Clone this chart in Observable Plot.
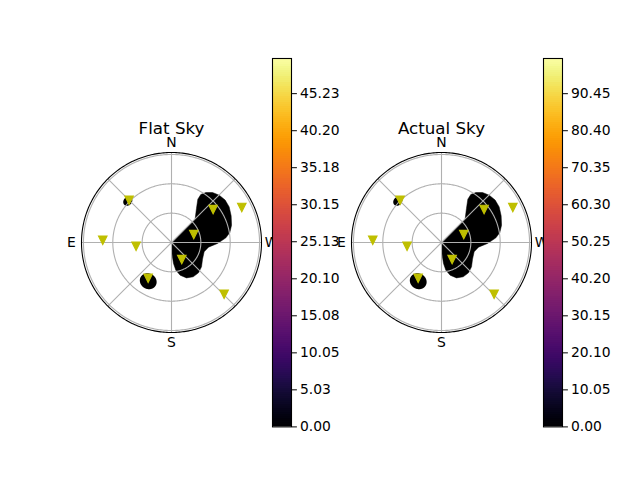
<!DOCTYPE html>
<html><head><meta charset="utf-8">
<script src="https://cdn.jsdelivr.net/npm/d3@7"></script>
<script src="https://cdn.jsdelivr.net/npm/@observablehq/plot@0.6"></script>
<style>
body{margin:0;background:#fff;}
#fig{position:relative;width:640px;height:480px;background:#fff;overflow:hidden;font-family:"DejaVu Sans";}
</style></head><body><div id="fig"></div>
<script>
// ---- data ----
const titles = ["Flat Sky", "Actual Sky"];
const flatAz  = [45.1, 296.5, 308.4, 289.7, 88.1, 96.0, 211.2, 146.8, 225.5];
const flatZen = [61.2, 80.3, 54.3, 24.2, 70.3, 36.4, 20.3, 43.6, 75.4];
const actualAz  = [44.4, 296.1, 307.8, 289.7, 88.1, 96.1, 212.0, 146.8, 225.5];
const actualZen = [60.5, 81.2, 55.1, 24.2, 70.3, 35.4, 20.5, 43.6, 75.4];
// outline of the low-value (black) region
const blobAz  = [250, 315, 315, 323.7, 328.7, 328.6, 325.5, 320.6, 314.8, 308.3, 301.7, 294.1, 286.1, 279.7, 274.9, 268.8, 262.8, 254.1, 241.7, 231.0, 221.7, 212.3, 203.0, 194.9, 188.9, 185.4, 183.0, 180];
const blobZen = [0.3, 16.9, 34.2, 43.1, 51.8, 57.5, 62.0, 66.1, 68.7, 69.9, 69.3, 66.8, 63.9, 60.5, 55.8, 47.0, 38.1, 34.7, 36.0, 39.5, 41.5, 41.5, 39.3, 34.6, 28.6, 21.6, 13.0, 6.1];
// small round low-value spots
const spotAz = [149, 46.6];
const spotZen = [46.2, 61.5];
const spotRadius = [7.9, 4.2];
const ringZen = [30, 60, 90];
const spokeAz = [0, 45, 90, 135, 180, 225, 270, 315];
const dirLabels = ["N", "E", "S", "W"];
const dirAz = [0, 90, 180, 270];
const rMax = 92;
const labelZen = 102.3;
const flatTicks = [0, 5.03, 10.05, 15.08, 20.10, 25.13, 30.15, 35.18, 40.20, 45.23];
const flatMax = 50.0;
const actualTicks = [0, 10.05, 20.10, 30.15, 40.20, 50.25, 60.30, 70.35, 80.40, 90.45];
const actualMax = 100.0;

// ---- helpers ----
const circle = (lon, lat, r) => d3.geoCircle().center([lon, lat]).radius(r).precision(1)();
const triDown = {
  draw(ctx, size) {
    const r = Math.sqrt(size / Math.PI);
    ctx.moveTo(0, r); ctx.lineTo(-r, -r); ctx.lineTo(r, -r); ctx.closePath();
  }
};
function blobPolygon() {
  const ring = blobAz.map((a, i) => [a, 90 - blobZen[i]]);
  ring.push(ring[0]);
  let poly = {type: "Polygon", coordinates: [ring]};
  if (d3.geoArea(poly) > 2 * Math.PI) poly = {type: "Polygon", coordinates: [ring.slice().reverse()]};
  return poly;
}
const font = {background: "transparent", fontFamily: "DejaVu Sans", fontSize: "13.9px", overflow: "visible", color: "black"};

function sky(az, zen, title) {
  const markers = az.map((a, i) => ({az: a, zen: zen[i]}));
  const spots = spotAz.map((a, i) => ({az: a, zen: spotZen[i], r: spotRadius[i]}));
  return Plot.plot({
    width: 260, height: 260, margin: 40,
    projection: {type: "azimuthal-equidistant", rotate: [180, -90], domain: circle(0, 90, rMax), clip: 179},
    style: font,
    marks: [
      Plot.geo([blobPolygon()], {fill: "black", stroke: "black", strokeWidth: 0.5}),
      Plot.geo(spots, {geometry: d => circle(d.az, 90 - d.zen, d.r), fill: "black"}),
      Plot.geo(ringZen, {geometry: z => circle(0, 90, z), fill: "none", stroke: "#b0b0b0", strokeWidth: 1.1}),
      Plot.link(spokeAz, {x1: a => a, y1: 90, x2: a => a, y2: 90 - rMax, stroke: "#b0b0b0", strokeWidth: 1.1}),
      Plot.dot(markers, {x: "az", y: d => 90 - d.zen, symbol: triDown, r: 4.2, fill: "#bfbf00", stroke: "#bfbf00", strokeWidth: 1.2}),
      Plot.geo([circle(0, 90, rMax)], {fill: "none", stroke: "black", strokeWidth: 1.1}),
      Plot.text(dirLabels, {x: (d, i) => dirAz[i], y: 90 - labelZen, text: d => d, fill: "black", fontSize: 13.9}),
      Plot.text([title], {frameAnchor: "top", lineAnchor: "middle", dy: -24, text: d => d, fill: "black", fontSize: 16.7})
    ]
  });
}

function colorbar(max, ticks) {
  const n = 184;
  const bands = d3.range(n).map(i => ({y1: i * max / n, y2: Math.min(max, (i + 1.6) * max / n), v: (i + 0.5) * max / n}));
  return Plot.plot({
    width: 80, height: 388.4, marginLeft: 2, marginRight: 59, marginTop: 10, marginBottom: 10,
    x: {domain: [0, 1], axis: null},
    y: {domain: [0, max], ticks: ticks, tickFormat: ".2f", tickSize: 4.9, tickPadding: 3.5, axis: "right", label: null},
    color: {type: "linear", scheme: "inferno", domain: [0, max]},
    style: font,
    marks: [
      Plot.rect(bands, {x1: 0, x2: 1, y1: "y1", y2: "y2", fill: "v"}),
      Plot.frame({stroke: "black", strokeWidth: 1.1})
    ]
  });
}

const fig = document.getElementById("fig");
function place(node, left, top) {
  node.style.position = "absolute";
  node.style.left = left + "px";
  node.style.top = top + "px";
  node.style.maxWidth = "none";
  fig.appendChild(node);
}
place(sky(flatAz, flatZen, titles[0]), 170.7 - 130, 242.3 - 130);
place(colorbar(flatMax, flatTicks), 270, 48.3);
place(sky(actualAz, actualZen, titles[1]), 440.7 - 130, 242.3 - 130);
place(colorbar(actualMax, actualTicks), 540.7, 48.3);
</script></body></html>
